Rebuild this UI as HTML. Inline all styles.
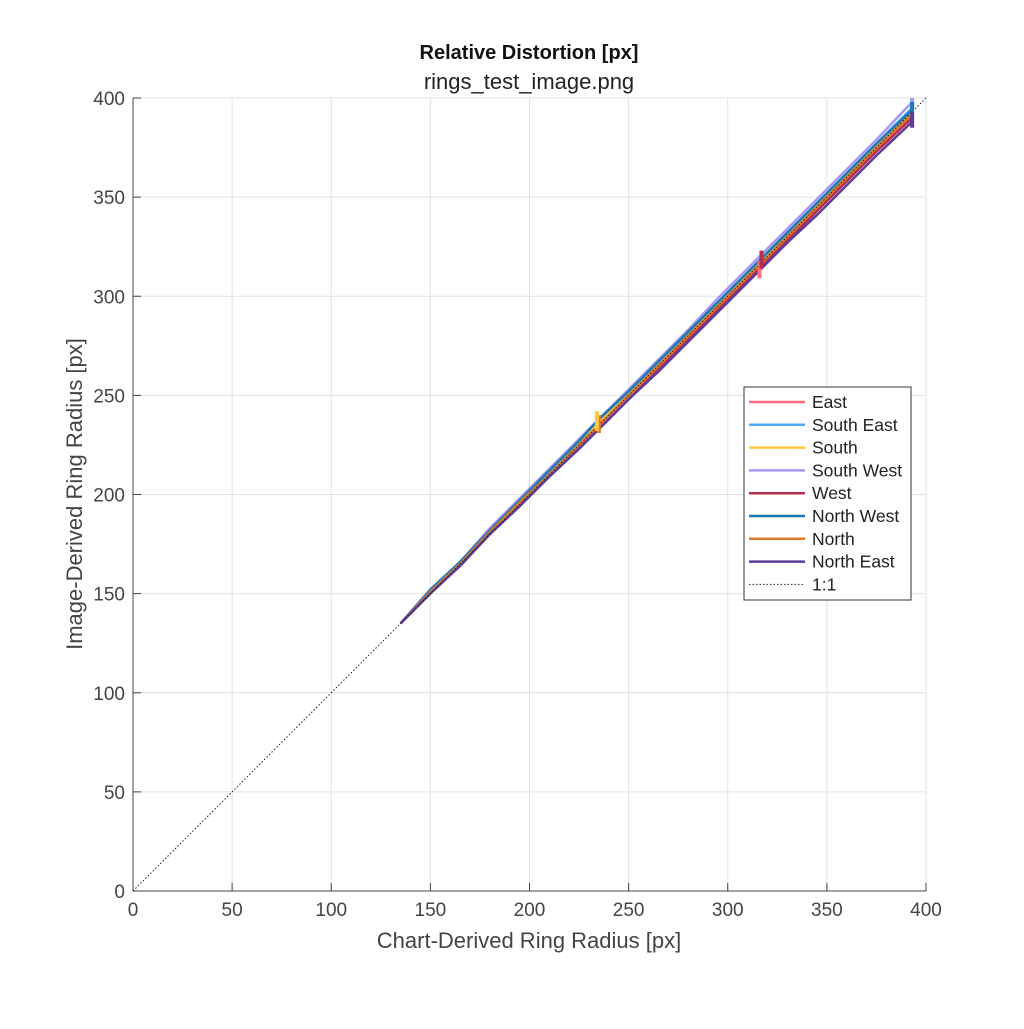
<!DOCTYPE html>
<html><head><meta charset="utf-8"><style>
body{margin:0;background:#fff;font-family:"Liberation Sans",sans-serif}
text{font-family:"Liberation Sans",sans-serif}
</style></head><body>
<svg id="chart" width="1024" height="1024" xmlns="http://www.w3.org/2000/svg">
<rect width="1024" height="1024" fill="#fff"/>
<g id="grid"></g>
<g id="axes"></g>
<g id="series"></g>
<text x="529" y="59" text-anchor="middle" font-size="20" font-weight="bold" fill="#111">Relative Distortion [px]</text>
<text x="529" y="89" text-anchor="middle" font-size="22" fill="#222">rings_test_image.png</text>
<text x="529" y="948" text-anchor="middle" font-size="22" fill="#444">Chart-Derived Ring Radius [px]</text>
<text transform="translate(82,494) rotate(-90)" text-anchor="middle" font-size="22" fill="#444">Image-Derived Ring Radius [px]</text>
<g id="legend"></g>
</svg>
<script>
const xTicks=[0,50,100,150,200,250,300,350,400];
const yTicks=[0,50,100,150,200,250,300,350,400];
const seriesNames=["East","South East","South","South West","West","North West","North","North East"];
const seriesColors=["#ff6b80","#4daaff","#ffc83c","#a897f5","#b4304a","#1a7ab4","#dc7a2a","#5e3c9c"];
const xVals=[135,150,165,180,195,210,225,235,250,265,280,295,315,330,345,360,375,393];
const yEast=[135,151,165,181,195,210,224,234,249,264,279,294,314,329,344,359,374,391];
const ySE=[135,152,166,182,197,212,227,237,252,267,282,297,317,332,347,362,377,395];
const ySouth=[135,151,165,181,196,211,226,236,251,266,281,296,316,331,346,361,376,393];
const ySW=[135,152,166,183,198,213,228,238,253,268,283,299,319,334,349,364,379,398];
const yWest=[135,151,164,180,195,209,224,233,248,263,278,293,313,328,343,358,373,390];
const yNW=[135,152,166,182,197,212,227,238,252,267,282,297,317,332,347,362,377,394];
const yNorth=[135,151,165,181,196,210,225,235,250,265,280,295,315,330,345,360,375,392];
const yNE=[135,150,164,180,194,209,223,233,248,262,277,292,312,327,341,356,371,388];
const seriesY=[yEast,ySE,ySouth,ySW,yWest,yNW,yNorth,yNE];
const errX=[316,235,234,317,393,393,393];
const errLo=[309,231,232,314,395,392,385];
const errHi=[318,240,242,323,400,398,393];
const errSeries=[0,6,2,4,3,5,7];
const L=133,R=926,T=98,B=891;
const sx=v=>L+(v-0)*(R-L)/400, sy=v=>B-(v-0)*(B-T)/400;
const NS="http://www.w3.org/2000/svg";
function mk(tag,attrs,parent){const e=document.createElementNS(NS,tag);for(const k in attrs)e.setAttribute(k,attrs[k]);parent.appendChild(e);return e;}
const grid=document.getElementById('grid'),axes=document.getElementById('axes'),ser=document.getElementById('series'),leg=document.getElementById('legend');
xTicks.forEach(t=>{const g=mk('line',{x1:sx(t),x2:sx(t),y1:T,y2:B,stroke:'#e2e2e2','stroke-width':1},grid);

const tk=mk('line',{x1:sx(t),x2:sx(t),y1:B,y2:B-8,stroke:'#444'},axes);

const tx=mk('text',{x:sx(t),y:B+25,'text-anchor':'middle','font-size':19,fill:'#444'},axes);tx.textContent=t;
});
yTicks.forEach(t=>{const g=mk('line',{x1:L,x2:R,y1:sy(t),y2:sy(t),stroke:'#e2e2e2','stroke-width':1},grid);

const tk=mk('line',{x1:L,x2:L+8,y1:sy(t),y2:sy(t),stroke:'#444'},axes);

const tx=mk('text',{x:L-8,y:sy(t)+7,'text-anchor':'end','font-size':19,fill:'#444'},axes);tx.textContent=t;
});
const xa=mk('line',{x1:L,x2:R,y1:B,y2:B,stroke:'#444'},axes);

const ya=mk('line',{x1:L,x2:L,y1:T,y2:B,stroke:'#444'},axes);

seriesY.forEach((ys,i)=>{const p=mk('polyline',{points:xVals.map((x,j)=>sx(x)+','+sy(ys[j])).join(' '),fill:'none',stroke:seriesColors[i],'stroke-width':2.5},ser);
});
const one=mk('line',{x1:sx(0),y1:sy(0),x2:sx(400),y2:sy(400),stroke:'#222','stroke-width':1,'stroke-dasharray':'1.5 2'},ser);

errX.forEach((x,i)=>{const e=mk('line',{x1:sx(x),x2:sx(x),y1:sy(errLo[i]),y2:sy(errHi[i]),stroke:seriesColors[errSeries[i]],'stroke-width':4},ser);
});
const lb=mk('rect',{x:744,y:387,width:167,height:213,fill:'#fff',stroke:'#333','stroke-width':1},leg);

seriesNames.concat(['1:1']).forEach((n,i)=>{const y=402+i*22.8;
const ln=mk('line',{x1:749,x2:805,y1:y,y2:y,stroke:i<8?seriesColors[i]:'#222','stroke-width':i<8?2.5:1,'stroke-dasharray':i<8?'none':'1.5 2'},leg);

const t=mk('text',{x:812,y:y+6,'font-size':17.5,fill:'#222'},leg);t.textContent=n;
});
</script>
</body></html>
